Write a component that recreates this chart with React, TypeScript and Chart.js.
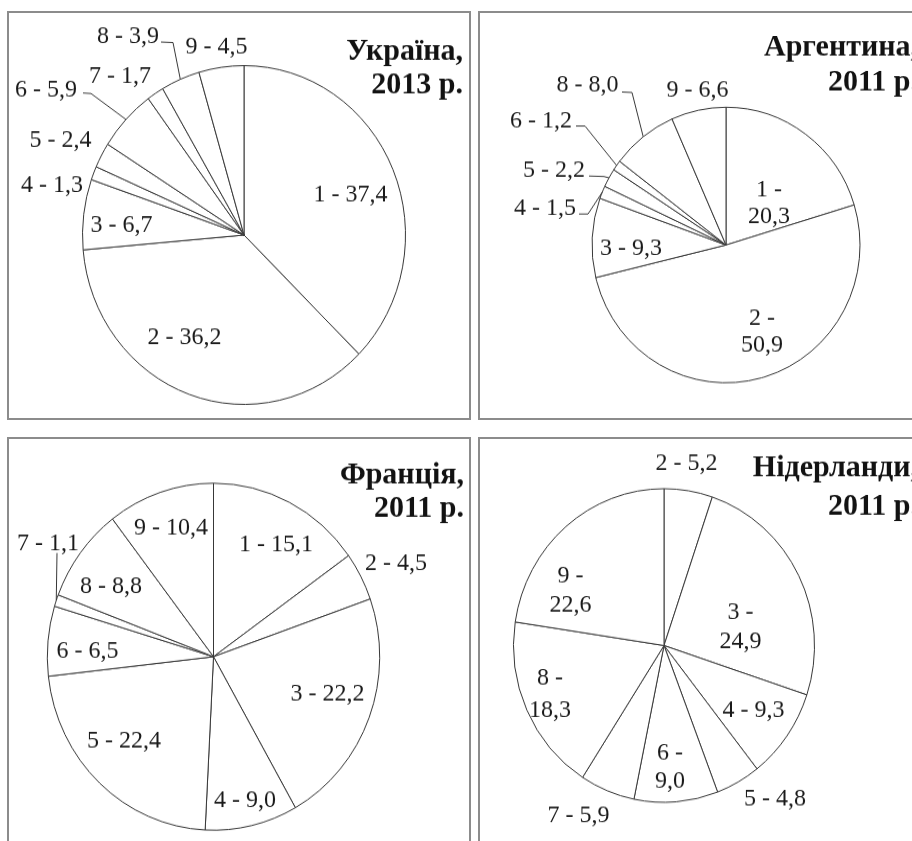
import React, { useEffect, useRef } from 'react';
import { Chart, registerables } from 'chart.js';

Chart.register(...registerables);

// ---------- data ----------
const categories = ['1', '2', '3', '4', '5', '6', '7', '8', '9'];

const ukraine2013 = [37.4, 36.2, 6.7, 1.3, 2.4, 5.9, 1.7, 3.9, 4.5];
const argentina2011 = [20.3, 50.9, 9.3, 1.5, 2.2, 1.2, 0, 8.0, 6.6];
const france2011 = [15.1, 4.5, 22.2, 9.0, 22.4, 6.5, 1.1, 8.8, 10.4];
const netherlands2011 = [0, 5.2, 24.9, 9.3, 4.8, 9.0, 5.9, 18.3, 22.6];

const ukraineTitle = ['Україна,', '2013 р.'];
const argentinaTitle = ['Аргентина,', '2011 р.'];
const franceTitle = ['Франція,', '2011 р.'];
const netherlandsTitle = ['Нідерланди,', '2011 р.'];

// ---------- layout (page coordinates) ----------
const W = 912;
const H = 841;

type Pt = [number, number];
interface LabelLayout { x: number; y: number; y2?: number; leader?: Pt[] }
interface PieLayout {
  cx: number; cy: number; r: number; s: number;
  titleX: number; titleY: [number, number];
  labels: (LabelLayout | null)[];
}

const ukraineLayout: PieLayout = {
  cx: 244, cy: 235, r: 162, s: 1.049, titleX: 463, titleY: [60, 93],
  labels: [
    { x: 350.5, y: 201 },
    { x: 184.5, y: 344 },
    { x: 121.5, y: 232 },
    { x: 52, y: 192 },
    { x: 60.5, y: 147 },
    { x: 46, y: 96, leader: [[83, 93], [91, 93.5]] },
    { x: 120, y: 83 },
    { x: 128, y: 43, leader: [[161, 42], [173, 42.5]] },
    { x: 216.5, y: 54 },
  ],
};

const argentinaLayout: PieLayout = {
  cx: 726, cy: 245, r: 134.5, s: 1.028, titleX: 918, titleY: [55, 90],
  labels: [
    { x: 769, y: 196, y2: 223 },
    { x: 762, y: 325, y2: 352 },
    { x: 631, y: 255 },
    { x: 545, y: 215, leader: [[579, 214], [588, 214]] },
    { x: 554, y: 177, leader: [[589, 176], [604, 176.5]] },
    { x: 541, y: 127, leader: [[576, 126], [585, 126]] },
    null,
    { x: 587.5, y: 92, leader: [[622, 92], [632, 92.5]] },
    { x: 697.5, y: 97 },
  ],
};

const franceLayout: PieLayout = {
  cx: 213.5, cy: 656.7, r: 166.7, s: 1.044, titleX: 464, titleY: [483, 517],
  labels: [
    { x: 276, y: 551 },
    { x: 396, y: 570 },
    { x: 327.5, y: 701 },
    { x: 245, y: 807 },
    { x: 124, y: 747 },
    { x: 87.5, y: 658 },
    { x: 48, y: 550, leader: [[57, 553]] },
    { x: 111, y: 593 },
    { x: 171, y: 535 },
  ],
};

const netherlandsLayout: PieLayout = {
  cx: 664, cy: 645.5, r: 151, s: 1.042, titleX: 918, titleY: [476, 515],
  labels: [
    null,
    { x: 686.5, y: 470 },
    { x: 740.5, y: 619, y2: 648 },
    { x: 753.5, y: 717 },
    { x: 775, y: 805 },
    { x: 670, y: 760, y2: 788 },
    { x: 578.5, y: 822 },
    { x: 550, y: 685, y2: 717 },
    { x: 570.5, y: 582, y2: 612 },
  ],
};

const fmt = (v: number) => v.toFixed(1).replace('.', ',');

const SERIF = '"Liberation Serif", "Times New Roman", serif';
const LINE = '#383838';

function PieCanvas({ data, title, layout }: { data: number[]; title: string[]; layout: PieLayout }) {
  const ref = useRef<HTMLCanvasElement>(null);
  const s = layout.s;
  const ch = Math.round(H / s);

  useEffect(() => {
    const canvas = ref.current!;
    const cyc = layout.cy / s;

    const labelPlugin = {
      id: 'sliceLabels',
      afterDatasetsDraw(chart: any) {
        const ctx: CanvasRenderingContext2D = chart.ctx;
        const meta = chart.getDatasetMeta(0);
        ctx.save();
        ctx.strokeStyle = LINE;
        ctx.lineWidth = 1;
        ctx.fillStyle = '#1a1a1a';
        ctx.font = `24px ${SERIF}`;
        ctx.textAlign = 'center';
        ctx.textBaseline = 'alphabetic';
        data.forEach((v, i) => {
          const lab = layout.labels[i];
          if (!lab || !v) return;
          const arc = meta.data[i];
          const { x, y, startAngle, endAngle, outerRadius } = arc.getProps(
            ['x', 'y', 'startAngle', 'endAngle', 'outerRadius'], true);
          if (lab.leader) {
            const mid = (startAngle + endAngle) / 2;
            ctx.beginPath();
            lab.leader.forEach(([px, py], k) => {
              if (k === 0) ctx.moveTo(px, py / s);
              else ctx.lineTo(px, py / s);
            });
            ctx.lineTo(x + Math.cos(mid) * outerRadius, y + Math.sin(mid) * outerRadius);
            ctx.stroke();
          }
          const name = categories[i];
          if (lab.y2 !== undefined) {
            ctx.fillText(`${name} -`, lab.x, lab.y / s);
            ctx.fillText(fmt(v), lab.x, lab.y2 / s);
          } else {
            ctx.fillText(`${name} - ${fmt(v)}`, lab.x, lab.y / s);
          }
        });
        ctx.font = `bold 30px ${SERIF}`;
        ctx.textAlign = 'right';
        ctx.fillStyle = '#121212';
        ctx.fillText(title[0], layout.titleX, layout.titleY[0] / s);
        ctx.fillText(title[1], layout.titleX, layout.titleY[1] / s);
        ctx.restore();
      },
    };

    const chart = new Chart(canvas, {
      type: 'pie',
      data: {
        labels: categories,
        datasets: [{
          data,
          backgroundColor: '#ffffff',
          borderColor: LINE,
          borderWidth: 1,
          hoverOffset: 0,
        }],
      },
      options: {
        responsive: false,
        animation: false,
        events: [],
        devicePixelRatio: 1,
        layout: {
          padding: {
            left: layout.cx - layout.r,
            right: W - layout.cx - layout.r,
            top: cyc - layout.r,
            bottom: ch - cyc - layout.r,
          },
        },
        plugins: { legend: { display: false }, tooltip: { enabled: false }, title: { display: false } },
      },
      plugins: [labelPlugin],
    } as any);
    return () => chart.destroy();
  }, []);

  return (
    <canvas
      ref={ref}
      width={W}
      height={ch}
      style={{ position: 'absolute', left: 0, top: 0, transform: `scaleY(${s})`, transformOrigin: '0 0' }}
    />
  );
}

const panelStyle = (left: number, top: number, width: number, height: number): React.CSSProperties => ({
  position: 'absolute', left, top, width, height,
  border: '2px solid #8c8c8c', boxSizing: 'border-box',
});

export default function App() {
  return (
    <div style={{ position: 'fixed', left: 0, top: 0, width: W, height: H, overflow: 'hidden', background: '#fff' }}>
      <div style={panelStyle(7, 11, 464, 409)} />
      <div style={panelStyle(478, 11, 470, 409)} />
      <div style={panelStyle(7, 437, 464, 420)} />
      <div style={panelStyle(478, 437, 470, 420)} />
      <PieCanvas data={ukraine2013} title={ukraineTitle} layout={ukraineLayout} />
      <PieCanvas data={argentina2011} title={argentinaTitle} layout={argentinaLayout} />
      <PieCanvas data={france2011} title={franceTitle} layout={franceLayout} />
      <PieCanvas data={netherlands2011} title={netherlandsTitle} layout={netherlandsLayout} />
    </div>
  );
}
